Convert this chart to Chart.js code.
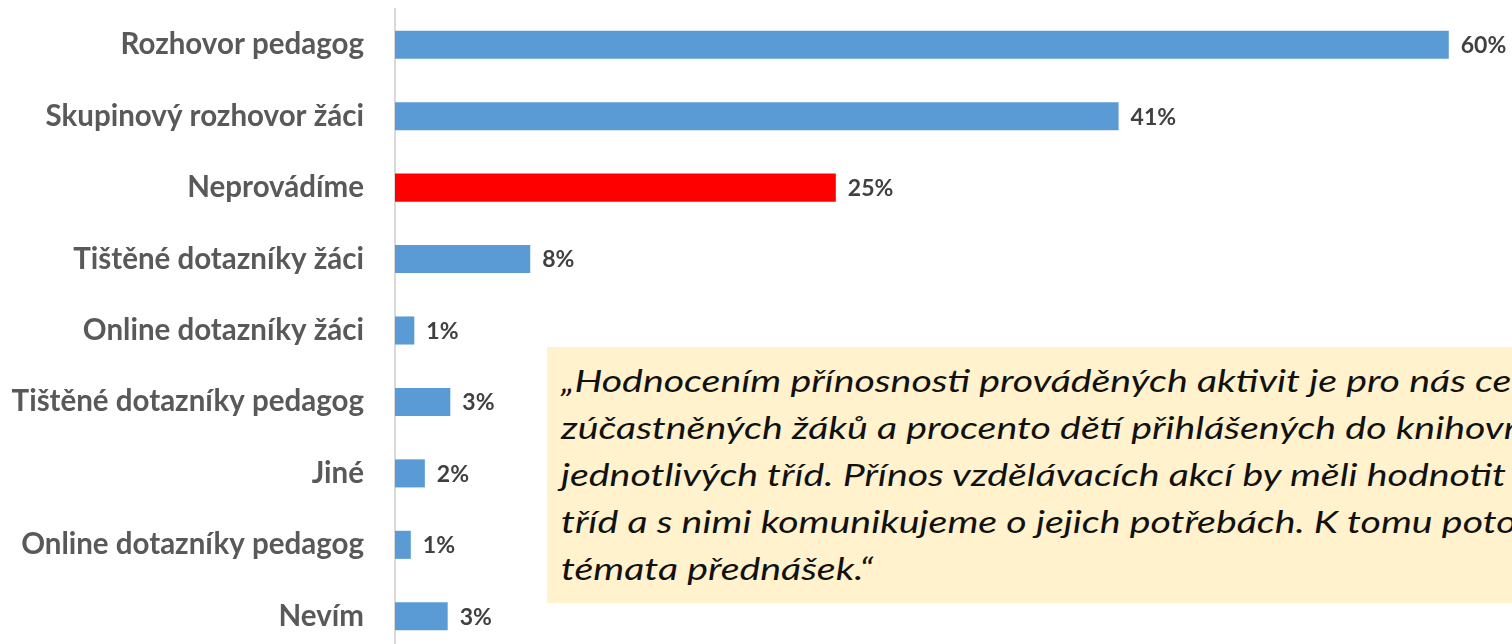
<!DOCTYPE html>
<html>
<head>
<meta charset="utf-8">
<script src="https://cdn.jsdelivr.net/npm/chart.js@4.4.1/dist/chart.umd.min.js"></script>
<style>
  html, body { margin: 0; padding: 0; background: #ffffff; overflow: hidden; width: 1512px; height: 644px; }
  #wrap { position: absolute; left: 0; top: 0; width: 1512px; height: 652px; }
  #quote {
    position: absolute; left: 547px; top: 347px; width: 965px; height: 256px;
    background: #FFF2CC; overflow: hidden; box-sizing: border-box;
    padding: 10px 0 0 14px;
  }
  #quoteText {
    font-family: Lato, "Open Sans", sans-serif; font-style: italic; font-size: 30px;
    line-height: 47px; color: #111111; white-space: nowrap;
    transform: scaleX(1.31); transform-origin: 0 0;
  }
</style>
</head>
<body>
<div id="wrap"><canvas id="c"></canvas></div>
<div id="quote"><div id="quoteText"></div></div>
<script>
const categories = [
  "Rozhovor pedagog",
  "Skupinový rozhovor žáci",
  "Neprovádíme",
  "Tištěné dotazníky žáci",
  "Online dotazníky žáci",
  "Tištěné dotazníky pedagog",
  "Jiné",
  "Online dotazníky pedagog",
  "Nevím"
];
const values = [60, 41.2, 25.1, 7.7, 1.1, 3.15, 1.7, 0.9, 3.0];
const valueLabels = ["60%", "41%", "25%", "8%", "1%", "3%", "2%", "1%", "3%"];
const highlighted = ["Neprovádíme"];
const quoteLines = [
  "„Hodnocením přínosnosti prováděných aktivit je pro nás cen",
  "zúčastněných žáků a procento dětí přihlášených do knihovny",
  "jednotlivých tříd. Přínos vzdělávacích akcí by měli hodnotit u",
  "tříd a s nimi komunikujeme o jejich potřebách. K tomu potom",
  "témata přednášek.“"
];

document.getElementById('quoteText').innerHTML = quoteLines.map(l => '<div>' + l + '</div>').join('');

const valueLabelPlugin = {
  id: 'valueLabels',
  afterDatasetsDraw(chart) {
    const ctx = chart.ctx;
    const meta = chart.getDatasetMeta(0);
    ctx.save();
    ctx.font = 'bold 23px Lato, "Open Sans", sans-serif';
    ctx.fillStyle = '#404040';
    ctx.textAlign = 'left';
    ctx.textBaseline = 'middle';
    meta.data.forEach((bar, i) => {
      ctx.fillText(valueLabels[i], bar.x + 12, bar.y + 1);
    });
    ctx.restore();
  }
};

new Chart(document.getElementById('c'), {
  type: 'bar',
  data: {
    labels: categories,
    datasets: [{
      data: values,
      backgroundColor: categories.map(c => highlighted.includes(c) ? '#FF0000' : '#5B9BD5'),
      borderWidth: 0,
      categoryPercentage: 1.0,
      barPercentage: 0.393
    }]
  },
  options: {
    indexAxis: 'y',
    responsive: true,
    maintainAspectRatio: false,
    animation: false,
    layout: { padding: { top: 9, bottom: 0, left: 0, right: 0 } },
    plugins: { legend: { display: false }, tooltip: { enabled: false } },
    scales: {
      x: { display: false, min: 0, max: 63.6 },
      y: {
        afterFit(scale) {
          scale.width = 395;
          scale.paddingTop = 0;
          scale.paddingBottom = 0;
        },
        grid: { display: false, drawTicks: false },
        border: { display: true, color: '#D9D9D9', width: 2 },
        ticks: {
          padding: 31,
          color: '#595959',
          font: { family: 'Lato, "Open Sans", sans-serif', weight: 'bold', size: 29.5 }
        }
      }
    }
  },
  plugins: [valueLabelPlugin]
});
</script>
</body>
</html>
